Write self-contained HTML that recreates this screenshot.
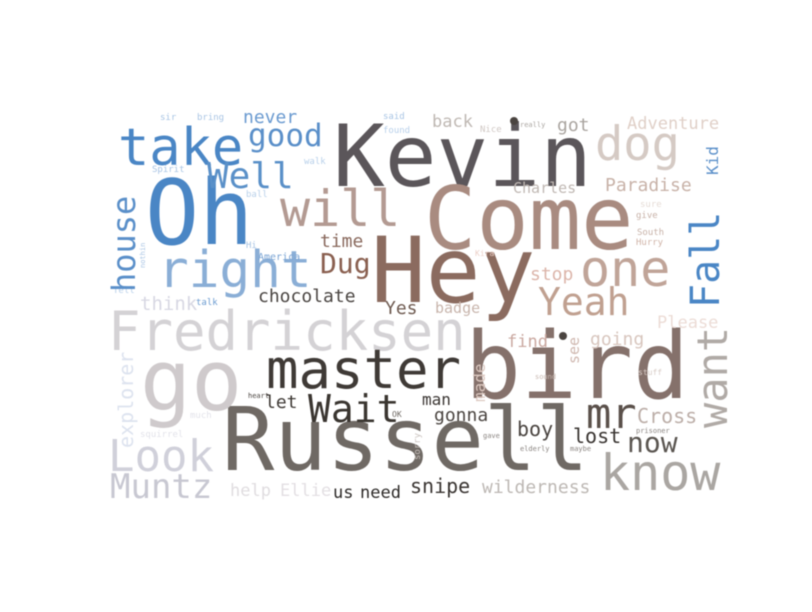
<!DOCTYPE html>
<html><head><meta charset="utf-8"><style>
html,body{margin:0;padding:0;background:#fff;width:812px;height:612px;overflow:hidden}
svg{display:block}
text{font-family:"DejaVu Sans Mono","Liberation Mono",monospace}
</style></head><body>
<svg id="cloud" width="812" height="612" viewBox="0 0 812 612" xmlns="http://www.w3.org/2000/svg">
<rect width="812" height="612" fill="#fff"/>
<g id="words" style="filter:blur(0.4px)"></g>
</svg>
<script>
// word, x (left), y (baseline), font size, color, rotated
const words = [
 ["Kevin",333,186,86,"#5b565a",0],
 ["Come",424,249,87,"#a98b80",0],
 ["Hey",371,302,91,"#8b6b5f",0],
 ["Oh",145,244,90,"#4a86c5",0],
 ["Russell",222,470,87,"#6f6964",0],
 ["bird",465,398,93,"#85716b",0],
 ["go",140,410,85,"#cfcacc",0],
 ["Fredricksen",108,350,54,"#d4d2d5",0],
 ["master",266,388,54,"#3f3a36",0],
 ["Wait",308,422,38,"#3a3530",0],
 ["will",280,226,50,"#b39a92",0],
 ["take",118,165,52,"#4a86c5",0],
 ["good",248,146,31,"#5a8fc9",0],
 ["Well",207,188,36,"#5a90c8",0],
 ["never",243,123,18,"#6a9ad0",0],
 ["right",158,287,51,"#8aaed6",0],
 ["Dug",320,273,28,"#8a6050",0],
 ["time",320,247,18,"#8a6a5e",0],
 ["chocolate",258,302,18,"#4a4542",0],
 ["think",140,310,19,"#d8d8e3",0],
 ["Look",108,471,44,"#d0d0da",0],
 ["Muntz",110,498,34,"#c8c8d2",0],
 ["help",230,496,17,"#e0dde0",0],
 ["Ellie",280,496,17,"#e3dfe3",0],
 ["us",333,498,17,"#2d2a28",0],
 ["need",360,498,17,"#2d2a28",0],
 ["snipe",410,493,20,"#3a3532",0],
 ["wilderness",482,493,18,"#bdb8b4",0],
 ["know",600,490,50,"#aaa6a2",0],
 ["now",627,452,28,"#5a5550",0],
 ["lost",573,443,20,"#3a3532",0],
 ["boy",517,436,20,"#4a4440",0],
 ["mr",586,428,42,"#5a504a",0],
 ["Cross",637,423,20,"#bcaea8",0],
 ["one",580,286,50,"#c0a498",0],
 ["Yeah",538,315,38,"#c0a090",0],
 ["dog",595,160,47,"#d5cac4",0],
 ["Paradise",605,191,18,"#c8b2a8",0],
 ["Adventure",627,129,17,"#e0d0c8",0],
 ["got",557,131,18,"#aaa5a0",0],
 ["back",432,127,17,"#bfb8b3",0],
 ["Charles",513,193,15,"#c0b8b3",0],
 ["stop",530,280,18,"#dcb5aa",0],
 ["Yes",385,314,18,"#6e5a50",0],
 ["badge",435,313,15,"#c8b5ac",0],
 ["find",507,347,17,"#caa8a0",0],
 ["going",590,345,18,"#d8c6be",0],
 ["Please",657,328,17,"#ecdcd6",0],
 ["man",422,405,16,"#3a3532",0],
 ["gonna",434,421,18,"#4a4440",0],
 ["let",265,408,18,"#3f3a36",0],
 ["America",258,260,10,"#7aa4d4",0],
 ["Spirit",152,172,9,"#a8c4e4",0],
 ["sir",160,120,9,"#a8c4e4",0],
 ["bring",197,120,9,"#a8c4e4",0],
 ["said",383,119,9,"#a8c4e4",0],
 ["found",383,133,9,"#b8d0ea",0],
 ["Nice",480,132,9,"#d0c8c4",0],
 ["really",520,127,7,"#aaa5a0",0],
 ["ball",246,197,9,"#b8d0ea",0],
 ["walk",304,164,9,"#b8d0ea",0],
 ["Hi",246,248,9,"#a8c4e4",0],
 ["talk",196,305,9,"#6a9ad0",0],
 ["Tell",113,293,9,"#b8d0ea",0],
 ["much",190,418,9,"#e3e3ea",0],
 ["squirrel",140,437,9,"#e3e3ea",0],
 ["give",636,218,9,"#c8b2a8",0],
 ["sure",640,207,9,"#e6dcd6",0],
 ["South",637,235,9,"#c8b2a8",0],
 ["Hurry",636,245,9,"#d0b4a8",0],
 ["Kira",475,256,8,"#ecd0c8",0],
 ["stuff",638,375,8,"#d8ccc6",0],
 ["sound",535,379,7,"#c8b8b0",0],
 ["gave",483,438,7,"#8a8480",0],
 ["maybe",570,451,7,"#8a8480",0],
 ["elderly",520,451,7,"#8a8480",0],
 ["prisoner",636,433,7,"#8a8480",0],
 ["OK",392,417,8,"#6e6862",0],
 ["heart",248,398,7,"#4a4440",0],
 ["house",135,292,32,"#5a8fc9",1],
 ["explorer",133,448,20,"#dde3ef",1],
 ["Fall",719,308,40,"#4a86c5",1],
 ["want",727,428,42,"#b0aaa6",1],
 ["Kid",718,175,16,"#5a8fc9",1],
 ["see",579,364,15,"#d0b8b0",1],
 ["made",485,402,16,"#dcc8c0",1],
 ["sorry",420,460,9,"#c8c0bc",1],
 ["nothin",145,268,7,"#a8c4e4",1]
];
const dots = [[514,121],[563,336]];
const g = document.getElementById('words');
const NS = "http://www.w3.org/2000/svg";
words.forEach(w => {
  const t = document.createElementNS(NS, 'text');
  
  
  t.setAttribute('x', w[1]);
  t.setAttribute('y', w[2]);
  t.setAttribute('font-size', w[3]);
  t.setAttribute('fill', w[4]);
  if (w[5]) t.setAttribute('transform', 'rotate(-90 ' + w[1] + ' ' + w[2] + ')');
  t.textContent = w[0];
  g.appendChild(t);
});
dots.forEach(d => {
  const c = document.createElementNS(NS, 'circle');
  
  
  c.setAttribute('cx', d[0]); c.setAttribute('cy', d[1]); c.setAttribute('r', 4);
  c.setAttribute('fill', '#4a4440');
  g.appendChild(c);
});
</script>
</body></html>
